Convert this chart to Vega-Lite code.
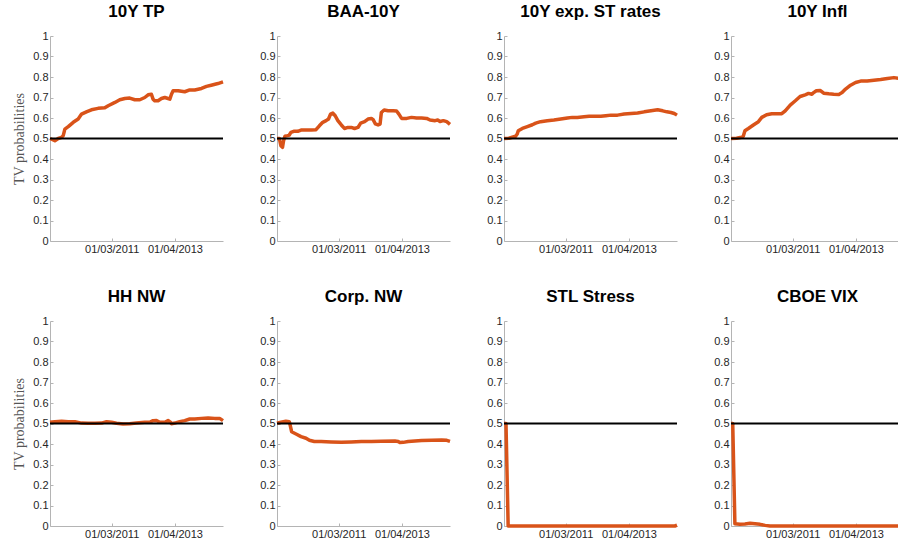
{
  "$schema": "https://vega.github.io/schema/vega-lite/v6.json",
  "padding": {"left": 12, "top": 3, "right": 0, "bottom": 0},
  "background": "white",
  "config": {
    "view": {"stroke": null},
    "font": "Liberation Sans",
    "title": {"font": "Liberation Sans", "fontSize": 17, "fontWeight": "bold", "color": "#000", "offset": 9},
    "axis": {"domainColor": "#b4b4b4", "tickColor": "#b4b4b4", "labelColor": "#262626", "labelFont": "Liberation Sans", "labelFontSize": 11, "grid": false, "tickSize": -3, "labelPadding": 5, "labelOverlap": false, "labelBound": false, "labelFlush": false},
    "concat": {"spacing": 34}
  },
  "datasets": {
    "d": [
      {"s":"tp","d":"2009-01-20","v":0.50},{"s":"tp","d":"2009-03-17","v":0.489},{"s":"tp","d":"2009-04-25","v":0.50},{"s":"tp","d":"2009-06-03","v":0.506},{"s":"tp","d":"2009-06-22","v":0.514},{"s":"tp","d":"2009-07-11","v":0.546},{"s":"tp","d":"2009-08-19","v":0.558},{"s":"tp","d":"2009-10-16","v":0.579},{"s":"tp","d":"2009-12-12","v":0.595},{"s":"tp","d":"2010-01-20","v":0.619},{"s":"tp","d":"2010-03-17","v":0.630},{"s":"tp","d":"2010-05-14","v":0.640},{"s":"tp","d":"2010-07-30","v":0.647},{"s":"tp","d":"2010-10-16","v":0.650},{"s":"tp","d":"2010-11-24","v":0.660},{"s":"tp","d":"2011-02-10","v":0.676},{"s":"tp","d":"2011-04-07","v":0.689},{"s":"tp","d":"2011-06-04","v":0.695},{"s":"tp","d":"2011-07-31","v":0.697},{"s":"tp","d":"2011-09-28","v":0.689},{"s":"tp","d":"2011-11-25","v":0.689},{"s":"tp","d":"2012-01-21","v":0.700},{"s":"tp","d":"2012-02-29","v":0.713},{"s":"tp","d":"2012-04-07","v":0.716},{"s":"tp","d":"2012-04-26","v":0.692},{"s":"tp","d":"2012-05-15","v":0.684},{"s":"tp","d":"2012-06-23","v":0.684},{"s":"tp","d":"2012-08-01","v":0.695},{"s":"tp","d":"2012-09-09","v":0.700},{"s":"tp","d":"2012-10-17","v":0.695},{"s":"tp","d":"2012-11-06","v":0.692},{"s":"tp","d":"2012-11-25","v":0.716},{"s":"tp","d":"2012-12-14","v":0.733},{"s":"tp","d":"2013-02-10","v":0.733},{"s":"tp","d":"2013-04-27","v":0.728},{"s":"tp","d":"2013-06-24","v":0.737},{"s":"tp","d":"2013-08-21","v":0.737},{"s":"tp","d":"2013-11-07","v":0.744},{"s":"tp","d":"2014-01-04","v":0.754},{"s":"tp","d":"2014-02-28","v":0.760},{"s":"tp","d":"2014-05-16","v":0.768},{"s":"tp","d":"2014-07-14","v":0.776},

      {"s":"baa","d":"2009-01-20","v":0.50},{"s":"baa","d":"2009-02-16","v":0.50},{"s":"baa","d":"2009-03-06","v":0.465},{"s":"baa","d":"2009-03-25","v":0.457},{"s":"baa","d":"2009-04-06","v":0.489},{"s":"baa","d":"2009-04-22","v":0.511},{"s":"baa","d":"2009-05-22","v":0.514},{"s":"baa","d":"2009-06-11","v":0.517},{"s":"baa","d":"2009-06-30","v":0.530},{"s":"baa","d":"2009-08-01","v":0.535},{"s":"baa","d":"2009-09-17","v":0.535},{"s":"baa","d":"2009-10-25","v":0.541},{"s":"baa","d":"2009-12-22","v":0.541},{"s":"baa","d":"2010-02-19","v":0.541},{"s":"baa","d":"2010-04-16","v":0.543},{"s":"baa","d":"2010-05-25","v":0.562},{"s":"baa","d":"2010-07-03","v":0.579},{"s":"baa","d":"2010-08-11","v":0.587},{"s":"baa","d":"2010-09-08","v":0.595},{"s":"baa","d":"2010-10-01","v":0.619},{"s":"baa","d":"2010-10-28","v":0.624},{"s":"baa","d":"2010-11-24","v":0.611},{"s":"baa","d":"2010-12-25","v":0.587},{"s":"baa","d":"2011-02-03","v":0.566},{"s":"baa","d":"2011-03-11","v":0.549},{"s":"baa","d":"2011-04-20","v":0.554},{"s":"baa","d":"2011-05-28","v":0.554},{"s":"baa","d":"2011-07-06","v":0.549},{"s":"baa","d":"2011-08-14","v":0.554},{"s":"baa","d":"2011-09-15","v":0.575},{"s":"baa","d":"2011-10-30","v":0.582},{"s":"baa","d":"2011-12-09","v":0.595},{"s":"baa","d":"2012-01-17","v":0.598},{"s":"baa","d":"2012-02-06","v":0.592},{"s":"baa","d":"2012-03-03","v":0.571},{"s":"baa","d":"2012-04-03","v":0.566},{"s":"baa","d":"2012-04-26","v":0.570},{"s":"baa","d":"2012-05-11","v":0.627},{"s":"baa","d":"2012-06-12","v":0.639},{"s":"baa","d":"2012-07-28","v":0.635},{"s":"baa","d":"2012-09-25","v":0.635},{"s":"baa","d":"2012-11-03","v":0.634},{"s":"baa","d":"2012-11-30","v":0.619},{"s":"baa","d":"2012-12-31","v":0.598},{"s":"baa","d":"2013-02-28","v":0.598},{"s":"baa","d":"2013-04-25","v":0.603},{"s":"baa","d":"2013-06-22","v":0.600},{"s":"baa","d":"2013-08-20","v":0.600},{"s":"baa","d":"2013-10-17","v":0.598},{"s":"baa","d":"2013-11-25","v":0.590},{"s":"baa","d":"2014-01-23","v":0.587},{"s":"baa","d":"2014-02-22","v":0.590},{"s":"baa","d":"2014-03-20","v":0.583},{"s":"baa","d":"2014-04-28","v":0.587},{"s":"baa","d":"2014-06-06","v":0.582},{"s":"baa","d":"2014-07-14","v":0.569},

      {"s":"st","d":"2009-01-20","v":0.50},{"s":"st","d":"2009-03-17","v":0.501},{"s":"st","d":"2009-04-25","v":0.506},{"s":"st","d":"2009-06-03","v":0.511},{"s":"st","d":"2009-06-22","v":0.522},{"s":"st","d":"2009-07-04","v":0.538},{"s":"st","d":"2009-08-20","v":0.549},{"s":"st","d":"2009-10-17","v":0.558},{"s":"st","d":"2009-12-14","v":0.567},{"s":"st","d":"2010-01-22","v":0.575},{"s":"st","d":"2010-03-19","v":0.582},{"s":"st","d":"2010-06-05","v":0.587},{"s":"st","d":"2010-08-21","v":0.590},{"s":"st","d":"2010-11-08","v":0.595},{"s":"st","d":"2011-01-24","v":0.600},{"s":"st","d":"2011-03-21","v":0.603},{"s":"st","d":"2011-05-18","v":0.603},{"s":"st","d":"2011-08-04","v":0.606},{"s":"st","d":"2011-10-02","v":0.608},{"s":"st","d":"2011-11-29","v":0.608},{"s":"st","d":"2012-02-14","v":0.608},{"s":"st","d":"2012-04-12","v":0.611},{"s":"st","d":"2012-06-09","v":0.614},{"s":"st","d":"2012-08-25","v":0.614},{"s":"st","d":"2012-11-11","v":0.619},{"s":"st","d":"2013-01-28","v":0.622},{"s":"st","d":"2013-04-14","v":0.624},{"s":"st","d":"2013-06-30","v":0.630},{"s":"st","d":"2013-09-16","v":0.635},{"s":"st","d":"2013-12-02","v":0.640},{"s":"st","d":"2014-01-30","v":0.635},{"s":"st","d":"2014-03-19","v":0.630},{"s":"st","d":"2014-05-05","v":0.627},{"s":"st","d":"2014-06-13","v":0.622},{"s":"st","d":"2014-07-14","v":0.614},

      {"s":"infl","d":"2009-01-20","v":0.50},{"s":"infl","d":"2009-03-25","v":0.501},{"s":"infl","d":"2009-05-22","v":0.506},{"s":"infl","d":"2009-06-11","v":0.511},{"s":"infl","d":"2009-06-30","v":0.538},{"s":"infl","d":"2009-08-09","v":0.549},{"s":"infl","d":"2009-10-06","v":0.566},{"s":"infl","d":"2009-12-03","v":0.582},{"s":"infl","d":"2010-01-11","v":0.603},{"s":"infl","d":"2010-03-08","v":0.616},{"s":"infl","d":"2010-05-06","v":0.621},{"s":"infl","d":"2010-07-03","v":0.621},{"s":"infl","d":"2010-08-30","v":0.621},{"s":"infl","d":"2010-10-09","v":0.635},{"s":"infl","d":"2010-12-06","v":0.663},{"s":"infl","d":"2011-02-03","v":0.684},{"s":"infl","d":"2011-03-30","v":0.705},{"s":"infl","d":"2011-05-28","v":0.713},{"s":"infl","d":"2011-07-06","v":0.720},{"s":"infl","d":"2011-08-14","v":0.716},{"s":"infl","d":"2011-09-03","v":0.724},{"s":"infl","d":"2011-10-04","v":0.733},{"s":"infl","d":"2011-11-20","v":0.734},{"s":"infl","d":"2011-12-28","v":0.721},{"s":"infl","d":"2012-02-25","v":0.718},{"s":"infl","d":"2012-04-22","v":0.716},{"s":"infl","d":"2012-06-20","v":0.715},{"s":"infl","d":"2012-07-28","v":0.724},{"s":"infl","d":"2012-09-06","v":0.741},{"s":"infl","d":"2012-11-03","v":0.760},{"s":"infl","d":"2012-12-31","v":0.773},{"s":"infl","d":"2013-02-28","v":0.780},{"s":"infl","d":"2013-05-14","v":0.780},{"s":"infl","d":"2013-07-31","v":0.784},{"s":"infl","d":"2013-10-17","v":0.788},{"s":"infl","d":"2014-01-03","v":0.793},{"s":"infl","d":"2014-03-20","v":0.797},{"s":"infl","d":"2014-05-13","v":0.793},{"s":"infl","d":"2014-07-14","v":0.795},

      {"s":"hh","d":"2009-01-20","v":0.506},{"s":"hh","d":"2009-03-17","v":0.509},{"s":"hh","d":"2009-06-03","v":0.511},{"s":"hh","d":"2009-08-19","v":0.509},{"s":"hh","d":"2009-11-04","v":0.509},{"s":"hh","d":"2010-01-20","v":0.502},{"s":"hh","d":"2010-04-06","v":0.501},{"s":"hh","d":"2010-06-22","v":0.501},{"s":"hh","d":"2010-09-08","v":0.502},{"s":"hh","d":"2010-11-05","v":0.509},{"s":"hh","d":"2011-01-02","v":0.506},{"s":"hh","d":"2011-02-28","v":0.501},{"s":"hh","d":"2011-05-15","v":0.498},{"s":"hh","d":"2011-07-31","v":0.499},{"s":"hh","d":"2011-10-16","v":0.502},{"s":"hh","d":"2012-01-21","v":0.506},{"s":"hh","d":"2012-03-18","v":0.506},{"s":"hh","d":"2012-04-26","v":0.514},{"s":"hh","d":"2012-06-04","v":0.515},{"s":"hh","d":"2012-07-12","v":0.506},{"s":"hh","d":"2012-09-09","v":0.506},{"s":"hh","d":"2012-10-17","v":0.514},{"s":"hh","d":"2012-11-06","v":0.509},{"s":"hh","d":"2012-11-25","v":0.499},{"s":"hh","d":"2013-01-03","v":0.502},{"s":"hh","d":"2013-02-28","v":0.509},{"s":"hh","d":"2013-04-27","v":0.514},{"s":"hh","d":"2013-06-24","v":0.522},{"s":"hh","d":"2013-08-21","v":0.522},{"s":"hh","d":"2013-11-07","v":0.525},{"s":"hh","d":"2014-01-23","v":0.527},{"s":"hh","d":"2014-04-08","v":0.525},{"s":"hh","d":"2014-06-05","v":0.525},{"s":"hh","d":"2014-07-14","v":0.514},

      {"s":"corp","d":"2009-01-20","v":0.501},{"s":"corp","d":"2009-03-06","v":0.506},{"s":"corp","d":"2009-05-03","v":0.511},{"s":"corp","d":"2009-06-11","v":0.509},{"s":"corp","d":"2009-06-23","v":0.489},{"s":"corp","d":"2009-07-08","v":0.460},{"s":"corp","d":"2009-08-28","v":0.449},{"s":"corp","d":"2009-10-25","v":0.436},{"s":"corp","d":"2009-12-22","v":0.428},{"s":"corp","d":"2010-01-30","v":0.418},{"s":"corp","d":"2010-03-28","v":0.412},{"s":"corp","d":"2010-06-14","v":0.412},{"s":"corp","d":"2010-10-09","v":0.410},{"s":"corp","d":"2011-02-03","v":0.408},{"s":"corp","d":"2011-05-28","v":0.410},{"s":"corp","d":"2011-09-22","v":0.412},{"s":"corp","d":"2012-01-17","v":0.412},{"s":"corp","d":"2012-05-11","v":0.413},{"s":"corp","d":"2012-10-14","v":0.415},{"s":"corp","d":"2012-11-22","v":0.412},{"s":"corp","d":"2012-12-11","v":0.407},{"s":"corp","d":"2013-01-19","v":0.408},{"s":"corp","d":"2013-03-17","v":0.412},{"s":"corp","d":"2013-06-03","v":0.415},{"s":"corp","d":"2013-08-20","v":0.417},{"s":"corp","d":"2013-12-14","v":0.418},{"s":"corp","d":"2014-04-08","v":0.420},{"s":"corp","d":"2014-06-06","v":0.418},{"s":"corp","d":"2014-07-14","v":0.413},

      {"s":"stl","d":"2009-01-20","v":0.50},{"s":"stl","d":"2009-02-12","v":0.50},{"s":"stl","d":"2009-03-09","v":0.0},{"s":"stl","d":"2010-06-01","v":0.0},{"s":"stl","d":"2011-06-01","v":0.0},{"s":"stl","d":"2012-06-01","v":0.0},{"s":"stl","d":"2013-06-01","v":0.0},{"s":"stl","d":"2014-06-20","v":0.0},{"s":"stl","d":"2014-07-14","v":0.004},

      {"s":"vix","d":"2009-01-20","v":0.50},{"s":"vix","d":"2009-02-09","v":0.50},{"s":"vix","d":"2009-03-06","v":0.011},{"s":"vix","d":"2009-05-03","v":0.008},{"s":"vix","d":"2009-06-30","v":0.010},{"s":"vix","d":"2009-08-28","v":0.013},{"s":"vix","d":"2009-10-25","v":0.011},{"s":"vix","d":"2009-12-22","v":0.008},{"s":"vix","d":"2010-02-19","v":0.003},{"s":"vix","d":"2010-04-16","v":0.0},{"s":"vix","d":"2011-06-01","v":0.0},{"s":"vix","d":"2012-06-01","v":0.0},{"s":"vix","d":"2013-06-01","v":0.0},{"s":"vix","d":"2014-07-14","v":0.0}
    ],
    "ref": [{"r": 0.5}]
  },
  "columns": 4,
  "concat": [
    {"title": "10Y TP", "width": 173, "height": 205, "layer": [
      {"data": {"name": "d"}, "transform": [{"filter": "datum.s === 'tp'"}], "mark": {"type": "line", "color": "#D95319", "strokeWidth": 3.5, "strokeJoin": "round"},
       "encoding": {"x": {"field": "d", "type": "temporal", "title": null, "scale": {"type": "utc", "domain": [{"year": 2009, "month": 1, "date": 20, "utc": true}, {"year": 2014, "month": 7, "date": 14, "utc": true}]}, "axis": {"values": [{"year": 2011, "month": 1, "date": 3, "utc": true}, {"year": 2013, "month": 1, "date": 4, "utc": true}], "format": "%m/%d/%Y"}},
                    "y": {"field": "v", "type": "quantitative", "scale": {"domain": [0, 1], "nice": false}, "axis": {"values": [0,0.1,0.2,0.3,0.4,0.5,0.6,0.7,0.8,0.9,1], "format": "~g", "title": "TV probabilities", "titleFont": "Liberation Serif", "titleFontWeight": "normal", "titleFontSize": 14, "titleColor": "#555555", "titlePadding": 6}}}},
      {"data": {"name": "ref"}, "mark": {"type": "rule", "color": "black", "strokeWidth": 2}, "encoding": {"y": {"field": "r", "type": "quantitative", "axis": {"values": [0,0.1,0.2,0.3,0.4,0.5,0.6,0.7,0.8,0.9,1], "format": "~g", "title": "TV probabilities", "titleFont": "Liberation Serif", "titleFontWeight": "normal", "titleFontSize": 14, "titleColor": "#555555", "titlePadding": 6}}}}
    ]},
    {"title": "BAA-10Y", "width": 173, "height": 205, "layer": [
      {"data": {"name": "d"}, "transform": [{"filter": "datum.s === 'baa'"}], "mark": {"type": "line", "color": "#D95319", "strokeWidth": 3.5, "strokeJoin": "round"},
       "encoding": {"x": {"field": "d", "type": "temporal", "title": null, "scale": {"type": "utc", "domain": [{"year": 2009, "month": 1, "date": 20, "utc": true}, {"year": 2014, "month": 7, "date": 14, "utc": true}]}, "axis": {"values": [{"year": 2011, "month": 1, "date": 3, "utc": true}, {"year": 2013, "month": 1, "date": 4, "utc": true}], "format": "%m/%d/%Y"}},
                    "y": {"field": "v", "type": "quantitative", "scale": {"domain": [0, 1], "nice": false}, "axis": {"values": [0,0.1,0.2,0.3,0.4,0.5,0.6,0.7,0.8,0.9,1], "format": "~g", "title": null}}}},
      {"data": {"name": "ref"}, "mark": {"type": "rule", "color": "black", "strokeWidth": 2}, "encoding": {"y": {"field": "r", "type": "quantitative", "axis": {"values": [0,0.1,0.2,0.3,0.4,0.5,0.6,0.7,0.8,0.9,1], "format": "~g", "title": null}}}}
    ]},
    {"title": "10Y exp. ST rates", "width": 173, "height": 205, "layer": [
      {"data": {"name": "d"}, "transform": [{"filter": "datum.s === 'st'"}], "mark": {"type": "line", "color": "#D95319", "strokeWidth": 3.5, "strokeJoin": "round"},
       "encoding": {"x": {"field": "d", "type": "temporal", "title": null, "scale": {"type": "utc", "domain": [{"year": 2009, "month": 1, "date": 20, "utc": true}, {"year": 2014, "month": 7, "date": 14, "utc": true}]}, "axis": {"values": [{"year": 2011, "month": 1, "date": 3, "utc": true}, {"year": 2013, "month": 1, "date": 4, "utc": true}], "format": "%m/%d/%Y"}},
                    "y": {"field": "v", "type": "quantitative", "scale": {"domain": [0, 1], "nice": false}, "axis": {"values": [0,0.1,0.2,0.3,0.4,0.5,0.6,0.7,0.8,0.9,1], "format": "~g", "title": null}}}},
      {"data": {"name": "ref"}, "mark": {"type": "rule", "color": "black", "strokeWidth": 2}, "encoding": {"y": {"field": "r", "type": "quantitative", "axis": {"values": [0,0.1,0.2,0.3,0.4,0.5,0.6,0.7,0.8,0.9,1], "format": "~g", "title": null}}}}
    ]},
    {"title": "10Y Infl", "width": 173, "height": 205, "layer": [
      {"data": {"name": "d"}, "transform": [{"filter": "datum.s === 'infl'"}], "mark": {"type": "line", "color": "#D95319", "strokeWidth": 3.5, "strokeJoin": "round"},
       "encoding": {"x": {"field": "d", "type": "temporal", "title": null, "scale": {"type": "utc", "domain": [{"year": 2009, "month": 1, "date": 20, "utc": true}, {"year": 2014, "month": 7, "date": 14, "utc": true}]}, "axis": {"values": [{"year": 2011, "month": 1, "date": 3, "utc": true}, {"year": 2013, "month": 1, "date": 4, "utc": true}], "format": "%m/%d/%Y"}},
                    "y": {"field": "v", "type": "quantitative", "scale": {"domain": [0, 1], "nice": false}, "axis": {"values": [0,0.1,0.2,0.3,0.4,0.5,0.6,0.7,0.8,0.9,1], "format": "~g", "title": null}}}},
      {"data": {"name": "ref"}, "mark": {"type": "rule", "color": "black", "strokeWidth": 2}, "encoding": {"y": {"field": "r", "type": "quantitative", "axis": {"values": [0,0.1,0.2,0.3,0.4,0.5,0.6,0.7,0.8,0.9,1], "format": "~g", "title": null}}}}
    ]},
    {"title": "HH NW", "width": 173, "height": 205, "layer": [
      {"data": {"name": "d"}, "transform": [{"filter": "datum.s === 'hh'"}], "mark": {"type": "line", "color": "#D95319", "strokeWidth": 3.5, "strokeJoin": "round"},
       "encoding": {"x": {"field": "d", "type": "temporal", "title": null, "scale": {"type": "utc", "domain": [{"year": 2009, "month": 1, "date": 20, "utc": true}, {"year": 2014, "month": 7, "date": 14, "utc": true}]}, "axis": {"values": [{"year": 2011, "month": 1, "date": 3, "utc": true}, {"year": 2013, "month": 1, "date": 4, "utc": true}], "format": "%m/%d/%Y"}},
                    "y": {"field": "v", "type": "quantitative", "scale": {"domain": [0, 1], "nice": false}, "axis": {"values": [0,0.1,0.2,0.3,0.4,0.5,0.6,0.7,0.8,0.9,1], "format": "~g", "title": "TV probabilities", "titleFont": "Liberation Serif", "titleFontWeight": "normal", "titleFontSize": 14, "titleColor": "#555555", "titlePadding": 6}}}},
      {"data": {"name": "ref"}, "mark": {"type": "rule", "color": "black", "strokeWidth": 2}, "encoding": {"y": {"field": "r", "type": "quantitative", "axis": {"values": [0,0.1,0.2,0.3,0.4,0.5,0.6,0.7,0.8,0.9,1], "format": "~g", "title": "TV probabilities", "titleFont": "Liberation Serif", "titleFontWeight": "normal", "titleFontSize": 14, "titleColor": "#555555", "titlePadding": 6}}}}
    ]},
    {"title": "Corp. NW", "width": 173, "height": 205, "layer": [
      {"data": {"name": "d"}, "transform": [{"filter": "datum.s === 'corp'"}], "mark": {"type": "line", "color": "#D95319", "strokeWidth": 3.5, "strokeJoin": "round"},
       "encoding": {"x": {"field": "d", "type": "temporal", "title": null, "scale": {"type": "utc", "domain": [{"year": 2009, "month": 1, "date": 20, "utc": true}, {"year": 2014, "month": 7, "date": 14, "utc": true}]}, "axis": {"values": [{"year": 2011, "month": 1, "date": 3, "utc": true}, {"year": 2013, "month": 1, "date": 4, "utc": true}], "format": "%m/%d/%Y"}},
                    "y": {"field": "v", "type": "quantitative", "scale": {"domain": [0, 1], "nice": false}, "axis": {"values": [0,0.1,0.2,0.3,0.4,0.5,0.6,0.7,0.8,0.9,1], "format": "~g", "title": null}}}},
      {"data": {"name": "ref"}, "mark": {"type": "rule", "color": "black", "strokeWidth": 2}, "encoding": {"y": {"field": "r", "type": "quantitative", "axis": {"values": [0,0.1,0.2,0.3,0.4,0.5,0.6,0.7,0.8,0.9,1], "format": "~g", "title": null}}}}
    ]},
    {"title": "STL Stress", "width": 173, "height": 205, "layer": [
      {"data": {"name": "d"}, "transform": [{"filter": "datum.s === 'stl'"}], "mark": {"type": "line", "color": "#D95319", "strokeWidth": 3.5, "strokeJoin": "round"},
       "encoding": {"x": {"field": "d", "type": "temporal", "title": null, "scale": {"type": "utc", "domain": [{"year": 2009, "month": 1, "date": 20, "utc": true}, {"year": 2014, "month": 7, "date": 14, "utc": true}]}, "axis": {"values": [{"year": 2011, "month": 1, "date": 3, "utc": true}, {"year": 2013, "month": 1, "date": 4, "utc": true}], "format": "%m/%d/%Y"}},
                    "y": {"field": "v", "type": "quantitative", "scale": {"domain": [0, 1], "nice": false}, "axis": {"values": [0,0.1,0.2,0.3,0.4,0.5,0.6,0.7,0.8,0.9,1], "format": "~g", "title": null}}}},
      {"data": {"name": "ref"}, "mark": {"type": "rule", "color": "black", "strokeWidth": 2}, "encoding": {"y": {"field": "r", "type": "quantitative", "axis": {"values": [0,0.1,0.2,0.3,0.4,0.5,0.6,0.7,0.8,0.9,1], "format": "~g", "title": null}}}}
    ]},
    {"title": "CBOE VIX", "width": 173, "height": 205, "layer": [
      {"data": {"name": "d"}, "transform": [{"filter": "datum.s === 'vix'"}], "mark": {"type": "line", "color": "#D95319", "strokeWidth": 3.5, "strokeJoin": "round"},
       "encoding": {"x": {"field": "d", "type": "temporal", "title": null, "scale": {"type": "utc", "domain": [{"year": 2009, "month": 1, "date": 20, "utc": true}, {"year": 2014, "month": 7, "date": 14, "utc": true}]}, "axis": {"values": [{"year": 2011, "month": 1, "date": 3, "utc": true}, {"year": 2013, "month": 1, "date": 4, "utc": true}], "format": "%m/%d/%Y"}},
                    "y": {"field": "v", "type": "quantitative", "scale": {"domain": [0, 1], "nice": false}, "axis": {"values": [0,0.1,0.2,0.3,0.4,0.5,0.6,0.7,0.8,0.9,1], "format": "~g", "title": null}}}},
      {"data": {"name": "ref"}, "mark": {"type": "rule", "color": "black", "strokeWidth": 2}, "encoding": {"y": {"field": "r", "type": "quantitative", "axis": {"values": [0,0.1,0.2,0.3,0.4,0.5,0.6,0.7,0.8,0.9,1], "format": "~g", "title": null}}}}
    ]}
  ]
}
